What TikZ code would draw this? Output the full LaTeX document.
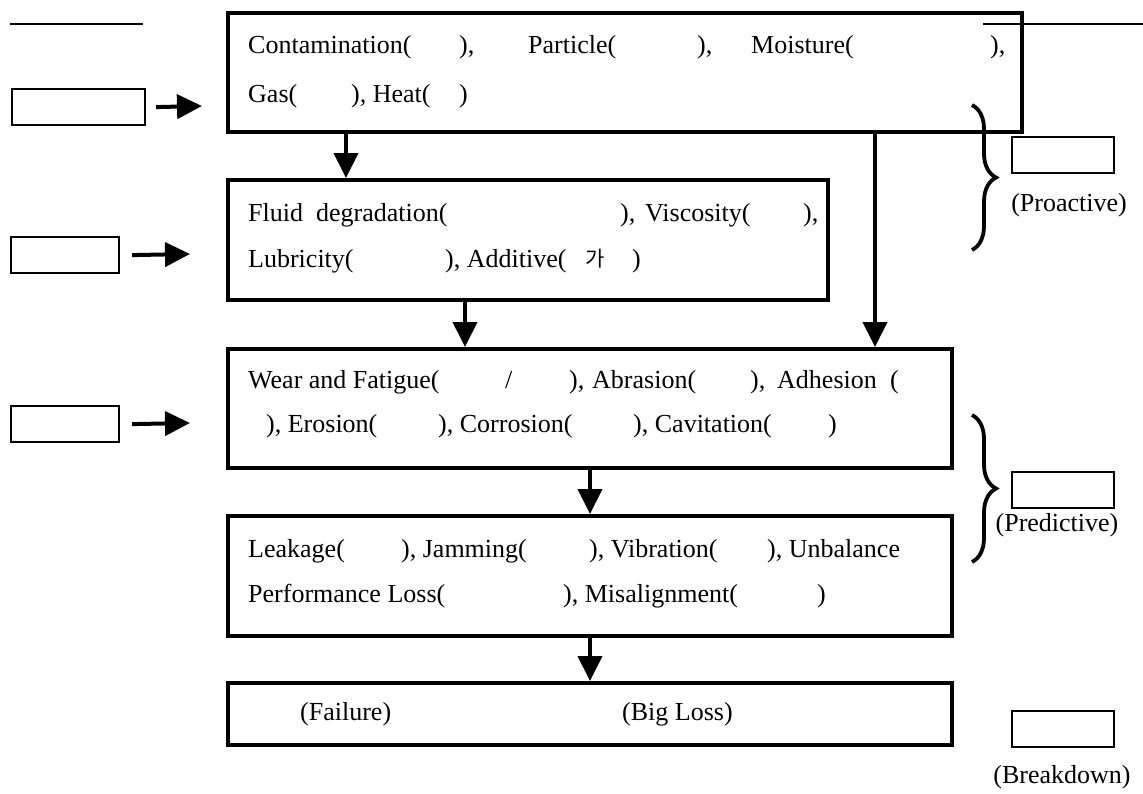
\documentclass[tikz,border=0pt]{standalone}
\usepackage{fontspec}
\setmainfont{Liberation Serif}
\newfontfamily\krfont{Noto Sans CJK KR}
\usetikzlibrary{arrows.meta,decorations.pathreplacing}
\begin{document}
\begin{tikzpicture}[x=1pt,y=-1pt,
  box/.style={draw, line width=3.5pt, inner sep=0pt, anchor=north west},
  sbox/.style={draw, line width=2.2pt, inner sep=0pt, anchor=north west, minimum height=36pt},
  seg/.style={anchor=base west, inner sep=0pt, font=\fontsize{26}{30}\selectfont},
  lab/.style={anchor=base, inner sep=0pt, font=\fontsize{26}{30}\selectfont},
  arr/.style={line width=4pt, -{Triangle[length=25pt,width=24pt]}},
  brc/.style={line width=3.8pt, decorate, decoration={brace, amplitude=24pt}},
  rule/.style={line width=2.5pt}]
\useasboundingbox (0,0) rectangle (1143,793);

% top rules
\coordinate (tl1) at (10,24); \coordinate (tl2) at (143,24);
\coordinate (tr1) at (983,24); \coordinate (tr2) at (1143,24);
\draw[rule] (tl1) -- (tl2);
\draw[rule] (tr1) -- (tr2);

% main boxes
\node[box, minimum width=794pt, minimum height=119pt] (b1) at (226,11) {};
\node[box, minimum width=600pt, minimum height=120pt] (b2) at (226,178) {};
\node[box, minimum width=724pt, minimum height=119pt] (b3) at (226,347) {};
\node[box, minimum width=724pt, minimum height=120pt] (b4) at (226,514) {};
\node[box, minimum width=724pt, minimum height=62pt] (b5) at (226,681) {};

% box 1 text
\node[seg] (t11) at (248,53) {Contamination(};
\node[seg] (t12) at (459,53) {),};
\node[seg] (t13) at (528,53) {Particle(};
\node[seg] (t14) at (697,53) {),};
\node[seg] (t15) at (751,53) {Moisture(};
\node[seg] (t16) at (990,53) {),};
\node[seg] (t17) at (248,102) {Gas(};
\node[seg] (t18) at (351,102) {), Heat(};
\node[seg] (t19) at (459,102) {)};

% box 2 text
\node[seg] (t21) at (248,221) {Fluid\ \ degradation(};
\node[seg] (t22) at (620,221) {),};
\node[seg] (t23) at (645,221) {Viscosity(};
\node[seg] (t24) at (803,221) {),};
\node[seg] (t25) at (248,267) {Lubricity(};
\node[seg] (t26) at (445,267) {), Additive(};
\node[seg] (t27) at (585,266) {\krfont\fontsize{21}{25}\selectfont 가};
\node[seg] (t28) at (632,267) {)};

% box 3 text
\node[seg] (t31) at (248,388) {Wear and Fatigue(};
\node[seg] (t32) at (505,388) {/};
\node[seg] (t33) at (569,388) {),};
\node[seg] (t34) at (592,388) {Abrasion(};
\node[seg] (t35) at (750,388) {),};
\node[seg] (t36) at (777,388) {Adhesion};
\node[seg] (t37) at (890,388) {(};
\node[seg] (t38) at (266,432) {), Erosion(};
\node[seg] (t39) at (438,432) {), Corrosion(};
\node[seg] (t3a) at (633,432) {), Cavitation(};
\node[seg] (t3b) at (828,432) {)};

% box 4 text
\node[seg] (t41) at (248,557) {Leakage(};
\node[seg] (t42) at (401,557) {), Jamming(};
\node[seg] (t43) at (589,557) {), Vibration(};
\node[seg] (t44) at (767,557) {), Unbalance};
\node[seg] (t45) at (248,602) {Performance Loss(};
\node[seg] (t46) at (563,602) {), Misalignment(};
\node[seg] (t47) at (817,602) {)};

% box 5 text
\node[seg] (t51) at (300,720) {(Failure)};
\node[seg] (t52) at (622,720) {(Big Loss)};

% left boxes
\node[sbox, minimum width=133pt] (la) at (11,88) {};
\node[sbox, minimum width=108pt] (lb) at (10,236) {};
\node[sbox, minimum width=108pt] (lc) at (10,405) {};
\coordinate (ea) at (202,106);
\coordinate (eb) at (190,254);
\coordinate (ec) at (190,423);
\draw[arr] ([xshift=10pt]la.east) -- (ea);
\draw[arr] ([xshift=12pt]lb.east) -- (eb);
\draw[arr] ([xshift=12pt]lc.east) -- (ec);

% vertical arrows
\draw[arr] (b1.south -| 346,0) -- (b2.north -| 346,0);
\draw[arr] (b1.south -| 875,0) -- (b3.north -| 875,0);
\draw[arr] (b2.south -| 465,0) -- (b3.north -| 465,0);
\draw[arr] (b3.south -| 590,0) -- (b4.north -| 590,0);
\draw[arr] (b4.south -| 590,0) -- (b5.north -| 590,0);

% right side
\coordinate (br1a) at (972,105); \coordinate (br1b) at (972,250);
\coordinate (br2a) at (972,415); \coordinate (br2b) at (972,562);
\draw[brc] (br1a) -- (br1b);
\draw[brc] (br2a) -- (br2b);
\node[sbox, minimum width=102pt] (ra) at (1011,136) {};
\node[sbox, minimum width=102pt] (rb) at (1011,471) {};
\node[sbox, minimum width=102pt] (rc) at (1011,710) {};
\node[lab] (pa) at (1069,211) {(Proactive)};
\node[lab] (pb) at (1057,531) {(Predictive)};
\node[lab] (pc) at (1062,783) {(Breakdown)};
\end{tikzpicture}
\end{document}
